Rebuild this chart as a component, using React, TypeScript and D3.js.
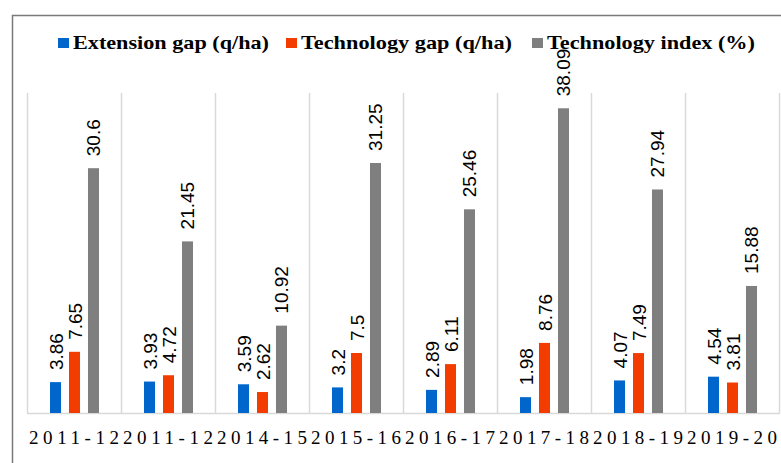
import React, { useEffect, useRef } from 'react';
import * as d3 from 'd3';

const years = ['2011-12', '2011-12', '2014-15', '2015-16', '2016-17', '2017-18', '2018-19', '2019-20'];
const extensionGap = [3.86, 3.93, 3.59, 3.2, 2.89, 1.98, 4.07, 4.54];
const technologyGap = [7.65, 4.72, 2.62, 7.5, 6.11, 8.76, 7.49, 3.81];
const technologyIndex = [30.6, 21.45, 10.92, 31.25, 25.46, 38.09, 27.94, 15.88];
const seriesNames = ['Extension gap (q/ha)', 'Technology gap (q/ha)', 'Technology index (%)'];
const seriesColors = ['#0066cc', '#f23c00', '#7f7f7f'];

const W = 781;
const H = 463;

const App = () => {
  const svgRef = useRef<SVGSVGElement>(null);

  useEffect(() => {
    const svg = d3.select(svgRef.current);
    svg.selectAll('*').remove();

    const plot = { left: 27, right: 779, top: 93, bottom: 413 };
    const values = [extensionGap, technologyGap, technologyIndex];

    // frame (only left and top visible)
    svg.append('path')
      .attr('d', `M12.5,${H} L12.5,15.5 L${W},15.5`)
      .attr('fill', 'none')
      .attr('stroke', '#7a7a7a')
      .attr('stroke-width', 1.5);

    const x = d3.scaleBand<number>()
      .domain(d3.range(years.length))
      .range([plot.left, plot.right])
      .padding(0);

    const inner = d3.scaleBand<number>()
      .domain([0, 1, 2])
      .range([23, 72])
      .paddingInner(0.42);

    const y = d3.scaleLinear().domain([0, 40]).range([plot.bottom, plot.top]);

    // vertical category gridlines
    const bounds = d3.range(years.length + 1).map(i => plot.left + i * x.step());
    svg.append('g')
      .selectAll('line')
      .data(bounds)
      .enter()
      .append('line')
      .attr('x1', d => Math.round(d) + 0.5)
      .attr('x2', d => Math.round(d) + 0.5)
      .attr('y1', plot.top)
      .attr('y2', plot.bottom)
      .attr('stroke', '#d9d9d9')
      .attr('stroke-width', 1.5);

    // baseline
    svg.append('line')
      .attr('x1', plot.left)
      .attr('x2', plot.right + 1)
      .attr('y1', plot.bottom + 0.5)
      .attr('y2', plot.bottom + 0.5)
      .attr('stroke', '#d9d9d9')
      .attr('stroke-width', 1.5);

    // bars + labels
    values.forEach((vals, s) => {
      const g = svg.append('g');
      g.selectAll('rect')
        .data(vals)
        .enter()
        .append('rect')
        .attr('x', (d, i) => (x(i) as number) + (inner(s) as number))
        .attr('y', d => y(d))
        .attr('width', inner.bandwidth())
        .attr('height', d => plot.bottom - y(d))
        .attr('fill', seriesColors[s]);

      g.selectAll('text')
        .data(vals)
        .enter()
        .append('text')
        .attr('transform', (d, i) => {
          const cx = (x(i) as number) + (inner(s) as number) + inner.bandwidth() / 2 + 7;
          return `translate(${cx},${y(d) - 12}) rotate(-90)`;
        })
        .attr('text-anchor', 'start')
        .attr('font-family', 'Liberation Sans, Arial, sans-serif')
        .attr('font-size', 19)
        .attr('fill', '#000')
        .text(d => String(d));
    });

    // x labels
    svg.append('g')
      .selectAll('text')
      .data(years)
      .enter()
      .append('text')
      .attr('x', (d, i) => (x(i) as number) + x.bandwidth() / 2)
      .attr('y', 444)
      .attr('text-anchor', 'middle')
      .attr('textLength', 90)
      .attr('lengthAdjust', 'spacing')
      .attr('font-family', 'Liberation Serif, Times New Roman, serif')
      .attr('font-size', 19)
      .attr('fill', '#000')
      .text(d => d);

    // legend
    const legendX = [58, 286, 532];
    const legendW = [196, 211, 208];
    const lg = svg.append('g');
    seriesNames.forEach((name, i) => {
      lg.append('rect')
        .attr('x', legendX[i])
        .attr('y', 38)
        .attr('width', 11)
        .attr('height', 10)
        .attr('fill', seriesColors[i]);
      lg.append('text')
        .attr('x', legendX[i] + 15)
        .attr('y', 49)
        .attr('textLength', legendW[i])
        .attr('lengthAdjust', 'spacingAndGlyphs')
        .attr('font-family', 'Liberation Serif, Times New Roman, serif')
        .attr('font-weight', 'bold')
        .attr('font-size', 19)
        .attr('fill', '#000')
        .text(name);
    });
  }, []);

  return (
    <svg
      ref={svgRef}
      width={W}
      height={H}
      style={{ position: 'absolute', left: 0, top: 0, background: '#fff' }}
    />
  );
};

export default App;
